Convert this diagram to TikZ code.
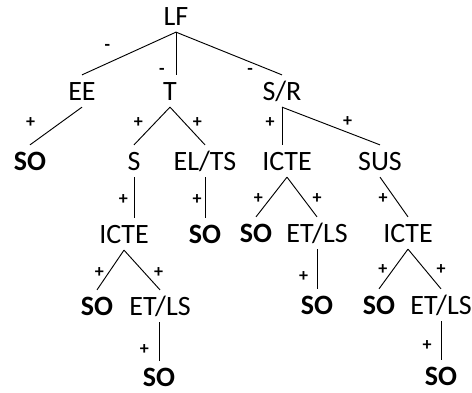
\documentclass[tikz,border=0pt]{standalone}
\usepackage{fontspec}
\setmainfont{Carlito}
\begin{document}
\begin{tikzpicture}[x=0.75pt, y=-0.75pt, line width=0.7pt]
\tikzset{noeud/.style={inner xsep=1pt, inner ysep=5pt, text height=13.5pt, text depth=0pt, font=\fontsize{21}{25}\selectfont},
  feuille/.style={noeud, font=\fontsize{21}{25}\selectfont\bfseries},
  signe/.style={inner sep=0pt, font=\fontsize{13.5}{14}\selectfont\bfseries}}
\useasboundingbox (0,0) rectangle (472,393);
% niveaux 0 et 1
\node[noeud] (LF) at (176,16) {LF};
\node[noeud] (EE) at (82,91) {EE};
\node[noeud] (T) at (170,91) {T};
\node[noeud] (SR) at (282,91) {S/R};
% niveau 2
\node[feuille] (SO1) at (30,161) {SO};
\node[noeud] (S) at (134,161) {S};
\node[noeud] (ELTS) at (205,161) {EL/TS};
\node[noeud] (ICTE1) at (287,161) {ICTE};
\node[noeud] (SUS) at (380,161) {SUS};
% niveau 3
\node[noeud] (ICTE2) at (124,234) {ICTE};
\node[feuille] (SO2) at (205,234) {SO};
\node[feuille] (SO3) at (256,233) {SO};
\node[noeud] (ETLS1) at (317,233) {ET/LS};
\node[noeud] (ICTE3) at (408,233) {ICTE};
% niveau 4
\node[feuille] (SO4) at (97,306) {SO};
\node[noeud] (ETLS2) at (160,306) {ET/LS};
\node[feuille] (SO5) at (317,305) {SO};
\node[feuille] (SO6) at (379,305) {SO};
\node[noeud] (ETLS3) at (441,305) {ET/LS};
% niveau 5
\node[feuille] (SO7) at (159,377) {SO};
\node[feuille] (SO8) at (441,376) {SO};
% aretes
\draw (LF.south) -- node[signe, pos=.73, yshift=12pt] {-} (EE.north);
\draw (LF.south) -- node[signe, pos=.92, xshift=-10.5pt] {-} (LF.south |- T.north);
\draw (LF.south) -- node[signe, pos=.70, yshift=-7pt] {-} (SR.north);
\draw (EE.south) -- node[signe, pos=.4, xshift=-23pt] {+} (SO1.north);
\draw (T.south) -- node[signe, pos=.4, xshift=-13pt] {+} (S.north);
\draw (T.south) -- node[signe, pos=.4, xshift=10pt] {+} (ELTS.north);
\draw (SR.south) -- node[signe, pos=.4, xshift=-9pt] {+} (SR.south |- ICTE1.north);
\draw (SR.south) -- node[signe, pos=.67, yshift=8.5pt] {+} (SUS.north);
\draw (S.south) -- node[signe, pos=.54, xshift=-8pt] {+} (S.south |- ICTE2.north);
\draw (ELTS.south) -- node[signe, pos=.54, xshift=-6pt] {+} (SO2.north);
\draw (ICTE1.south) -- node[signe, pos=.54, xshift=-9pt] {+} (SO3.north);
\draw (ICTE1.south) -- node[signe, pos=.54, xshift=10.5pt] {+} (ETLS1.north);
\draw (SUS.south) -- node[signe, pos=.54, xshift=-9pt] {+} (ICTE3.north);
\draw (ICTE2.south) -- node[signe, pos=.57, xshift=-7pt] {+} (SO4.north);
\draw (ICTE2.south) -- node[signe, pos=.57, xshift=10.5pt] {+} (ETLS2.north);
\draw (ETLS1.south) -- node[signe, pos=.70, xshift=-10pt] {+} (SO5.north);
\draw (ICTE3.south) -- node[signe, pos=.52, xshift=-7.5pt] {+} (SO6.north);
\draw (ICTE3.south) -- node[signe, pos=.52, xshift=12pt] {+} (ETLS3.north);
\draw (SO7.north |- ETLS2.south) -- node[signe, pos=.71, xshift=-11pt] {+} (SO7.north);
\draw (ETLS3.south) -- node[signe, pos=.64, xshift=-10.5pt] {+} (SO8.north);
\end{tikzpicture}
\end{document}
